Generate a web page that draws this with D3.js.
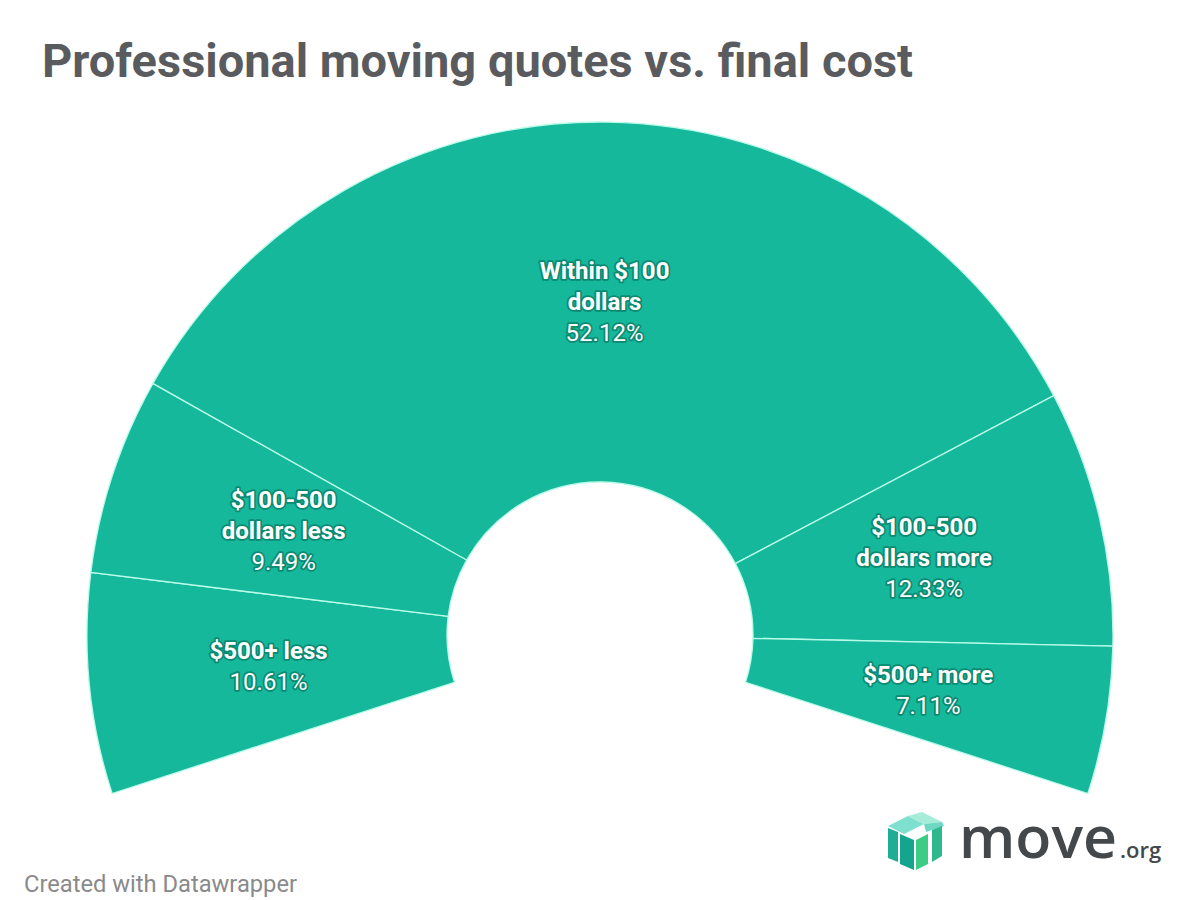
<!DOCTYPE html>
<html>
<head>
<meta charset="utf-8">
<script src="https://cdn.jsdelivr.net/npm/d3@7"></script>
<style>
  html, body { margin: 0; padding: 0; background: #ffffff; }
  svg { display: block; }
</style>
</head>
<body>
<svg id="chart" width="1200" height="900"></svg>
<script>
// ---- data ----
const categories = ["$500+ less", "$100-500 dollars less", "Within $100 dollars", "$100-500 dollars more", "$500+ more"];
const labelLines = [["$500+ less"], ["$100-500", "dollars less"], ["Within $100", "dollars"], ["$100-500", "dollars more"], ["$500+ more"]];
const values = [10.61, 9.49, 52.12, 12.33, 7.11];
const valueLabels = ["10.61%", "9.49%", "52.12%", "12.33%", "7.11%"];

const title = "Professional moving quotes vs. final cost";
const footer = "Created with Datawrapper";

// ---- layout ----
const svg = d3.select("#chart");
const cx = 600, cy = 635, outerR = 513, innerR = 153;
const span = 108 * Math.PI / 180;
const fill = "#16b89b";

svg.append("text")
  .attr("x", 42).attr("y", 77)
  .attr("font-family", "Roboto, 'Noto Sans', sans-serif")
  .attr("font-weight", 700)
  .attr("font-size", 46)
  .attr("textLength", 871)
  .attr("lengthAdjust", "spacingAndGlyphs")
  .attr("fill", "#5a5b5f")
  .text(title);

const pie = d3.pie().sort(null).value(d => d).startAngle(-span).endAngle(span);
const arcs = pie(values);
const arc = d3.arc().innerRadius(innerR).outerRadius(outerR);

const g = svg.append("g").attr("transform", `translate(${cx},${cy})`);
g.selectAll("path.slice").data(arcs).enter().append("path")
  .attr("class", "slice")
  .attr("d", arc)
  .attr("fill", fill)
  .attr("stroke", "#b9fbe9")
  .attr("stroke-width", 1.3);

const labels = g.selectAll("g.lbl").data(arcs).enter().append("g")
  .attr("class", "lbl")
  .attr("transform", d => `translate(${arc.centroid(d)})`);

labels.each(function(d, i) {
  const lines = labelLines[i];
  const all = lines.map(t => ({t, bold: true})).concat([{t: valueLabels[i], bold: false}]);
  const lh = 31;
  const n = all.length;
  const t = d3.select(this).append("text")
    .attr("text-anchor", "middle")
    .attr("font-family", "Roboto, 'Noto Sans', sans-serif")
    .attr("font-size", 24)
    .attr("fill", "#ffffff")
    .attr("stroke", "#0b8a72")
    .attr("stroke-width", 3.5)
    .attr("stroke-linejoin", "round")
    .attr("paint-order", "stroke");
  all.forEach((l, k) => {
    t.append("tspan")
      .attr("x", 0)
      .attr("y", (k - (n - 1) / 2) * lh + 8)
      .attr("font-weight", l.bold ? 700 : 400)
      .text(l.t);
  });
});

// footer
svg.append("text")
  .attr("x", 24).attr("y", 892)
  .attr("font-family", "Roboto, 'Noto Sans', sans-serif")
  .attr("font-size", 23)
  .attr("textLength", 273)
  .attr("lengthAdjust", "spacingAndGlyphs")
  .attr("fill", "#8a8a8a")
  .text(footer);

// logo
const logo = svg.append("g").attr("transform", "translate(886,812)");
// top panels
logo.append("polygon").attr("points", "2,14 22,4 38,12 18,22").attr("fill", "#7fe0cf");
logo.append("polygon").attr("points", "22,4 36,0 56,10 38,12").attr("fill", "#a6ecd9");
logo.append("polygon").attr("points", "38,12 56,10 58,14 40,20").attr("fill", "#6fd8c4");
// left column
logo.append("polygon").attr("points", "2,16 12,20 12,50 2,46").attr("fill", "#1fae95");
// middle
logo.append("polygon").attr("points", "14,22 28,28 28,58 14,52").attr("fill", "#15a48d");
logo.append("polygon").attr("points", "30,28 42,22 42,52 30,58").attr("fill", "#3dcc86");
// right column
logo.append("polygon").attr("points", "46,18 56,14 56,44 46,50").attr("fill", "#2fb88c");

logo.append("text")
  .attr("x", 73).attr("y", 46)
  .attr("font-family", "'Open Sans', 'Noto Sans', sans-serif")
  .attr("font-size", 57)
  .attr("font-weight", 600)
  .attr("textLength", 158)
  .attr("lengthAdjust", "spacingAndGlyphs")
  .attr("fill", "#45484a")
  .text("move");
logo.append("text")
  .attr("x", 234).attr("y", 46)
  .attr("font-family", "'Open Sans', 'Noto Sans', sans-serif")
  .attr("font-size", 22)
  .attr("font-weight", 600)
  .attr("fill", "#45484a")
  .text(".org");
</script>
</body>
</html>
